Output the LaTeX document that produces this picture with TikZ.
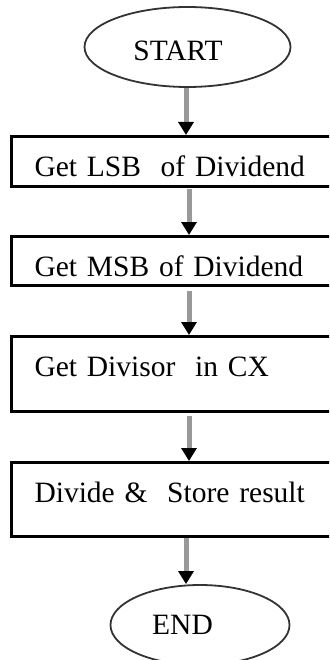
\documentclass[tikz,border=0pt]{standalone}
\usepackage{fontspec}
\setmainfont{Liberation Serif}
\usetikzlibrary{shapes.geometric,arrows.meta}

\begin{document}
\begin{tikzpicture}[x=1pt, y=-1pt,
    font=\fontsize{29.5}{35}\selectfont,
    terminal/.style={ellipse, draw=black!80, line width=1.8pt, inner sep=0pt,
        minimum width=206pt, minimum height=80pt},
    procbox/.style={draw, line width=3pt, anchor=north west, align=left,
        text width=330pt, inner xsep=23pt, inner ysep=0pt, text height=40pt},
    flow/.style={draw=black!40, line width=5pt,
        -{Triangle[width=15pt, length=13pt, color=black, fill=black]}}]
    \clip (0,0) rectangle (329,660);
    \node (start) [terminal, text height=27pt] at (187.5,47) {START\hspace*{19pt}};
    \node (lsb) [procbox, text depth=10pt] at (10,135) {Get LSB\ \ of Dividend};
    \node (msb) [procbox, text depth=9pt] at (10,235) {Get MSB of Dividend};
    \node (div) [procbox, text depth=35pt] at (10,335) {Get Divisor\ \ in CX};
    \node (res) [procbox, text depth=34pt] at (10,461) {Divide \&\ \ Store result};
    \node (end) [terminal, minimum width=179pt] at (200,625) {END\hspace*{35pt}};
    \draw[flow] (start.south -| 186,0) -- (lsb.north -| 186,0);
    \draw[flow, shorten <=1pt] (lsb.south -| 189,0) -- (msb.north -| 189,0);
    \draw[flow, shorten <=4pt] (msb.south -| 189,0) -- (div.north -| 189,0);
    \draw[flow, shorten <=3pt] (div.south -| 189,0) -- (res.north -| 189,0);
    \draw[flow] (res.south -| 186,0) -- (end.north -| 186,0);
\end{tikzpicture}
\end{document}
